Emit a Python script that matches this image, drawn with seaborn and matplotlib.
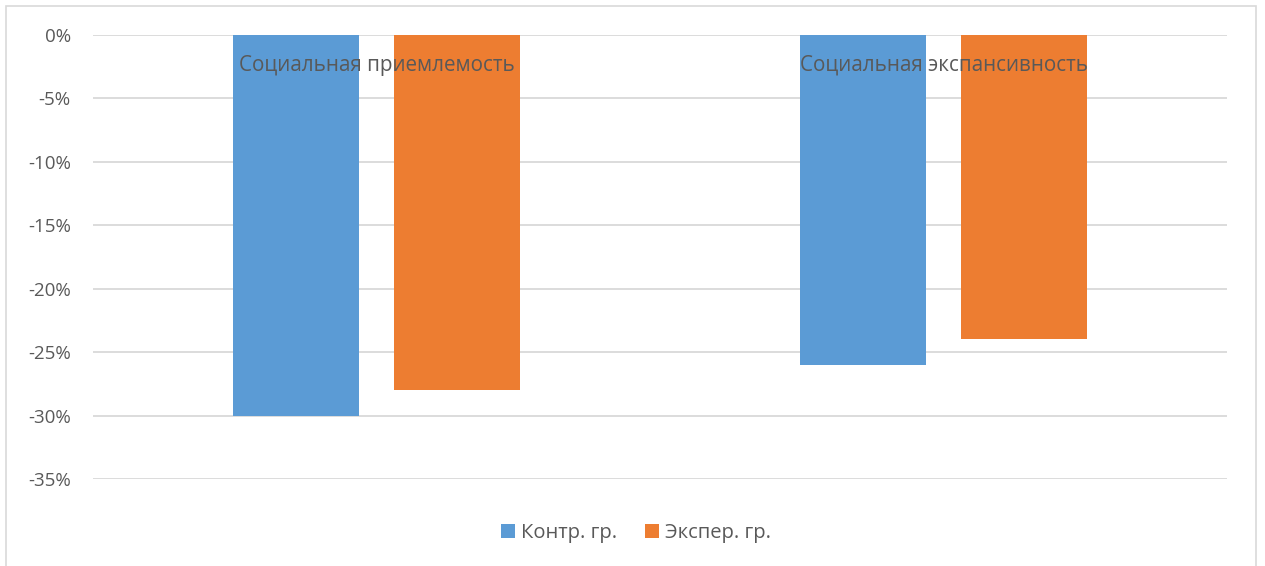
import matplotlib
matplotlib.use("Agg")
import matplotlib.pyplot as plt
import seaborn as sns
import pandas as pd
from matplotlib.patches import Rectangle

# Chart data (values in percent)
categories = ["Социальная приемлемость", "Социальная экспансивность"]
groups = ["Контр. гр.", "Экспер. гр."]
control_values = [-30, -26]
experimental_values = [-28, -24]
y_ticks = [0, -5, -10, -15, -20, -25, -30, -35]
colors = ["#5B9BD5", "#ED7D31"]

df = pd.DataFrame({
    "category": categories * 2,
    "group": [groups[0]] * len(categories) + [groups[1]] * len(categories),
    "value": control_values + experimental_values,
})

sns.set_theme(style="white")
plt.rcParams["font.family"] = ["Open Sans", "DejaVu Sans"]
text_color = "#595959"
grid_color = "#D9D9D9"

W, H = 1265, 566
fig = plt.figure(figsize=(W / 100, H / 100), dpi=100)
ax = fig.add_axes([93 / W, 1 - 479 / H, (1227 - 93) / W, (479 - 35) / H])

sns.barplot(
    data=df, x="category", y="value", hue="group",
    order=categories, hue_order=groups, palette=colors,
    width=0.568, gap=0.218, saturation=1, linewidth=0,
    errorbar=None, ax=ax,
)

ax.set_xlim(-0.5, 1.5)
ax.set_ylim(-35, 0)
ax.set_yticks(y_ticks)
ax.set_yticklabels([f"{v}%" for v in y_ticks])
ax.yaxis.grid(True, color=grid_color, linewidth=1.3)
ax.set_axisbelow(True)
for s in ax.spines.values():
    s.set_visible(False)
ax.set_xlabel("")
ax.set_ylabel("")

ax.tick_params(axis="y", length=0, pad=16, labelsize=13.5, labelcolor=text_color)
ax.tick_params(axis="x", length=0, labelbottom=False)

# Category labels sit just under the zero line, on top of the bars
for i, cat in enumerate(categories):
    ax.text(i, -2.4, cat, ha="center", va="center", fontsize=14.9,
            color=text_color, zorder=5)

handles, labels = ax.get_legend_handles_labels()
ax.legend_.remove()
fig.legend(
    handles, labels, loc="center", bbox_to_anchor=(636 / W, 1 - 533 / H),
    ncol=2, frameon=False, fontsize=14.5, labelcolor=text_color,
    handlelength=0.7, handleheight=0.7, handletextpad=0.3, columnspacing=1.4,
)

# Light chart-area border
fig.patches.append(Rectangle((5.5 / W, -0.02), (1256 - 5.5) / W, 1.02 - 5.5 / H,
                             transform=fig.transFigure, fill=False,
                             edgecolor=grid_color, linewidth=1.2))

fig.savefig("out.png", dpi=100, facecolor="white")
